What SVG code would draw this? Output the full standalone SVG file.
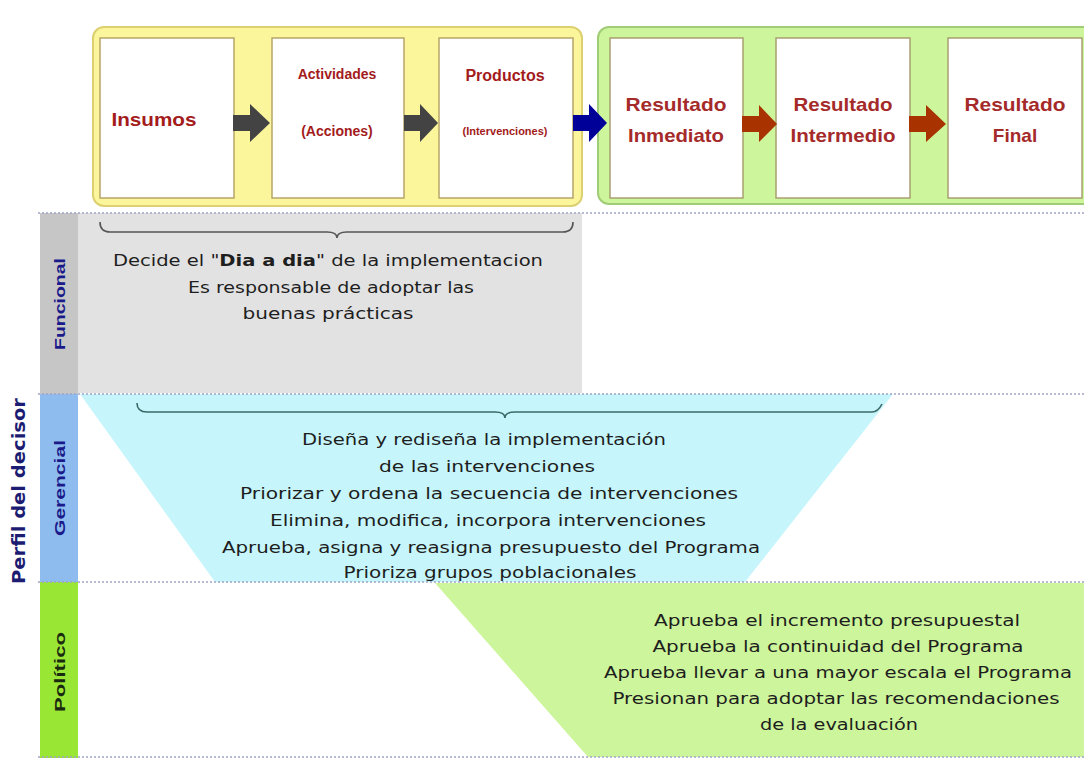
<svg xmlns="http://www.w3.org/2000/svg" width="1084" height="758" viewBox="0 0 1084 758">
<style>
.box{fill:#ffffff;stroke:#b8a56a;stroke-width:1.5}
.gbox{fill:#ffffff;stroke:#a8a070;stroke-width:1.5}
.hd{font-family:"Liberation Sans",Arial,sans-serif;font-weight:bold;fill:#a31b1b;text-anchor:middle}
.rs{font-family:"Liberation Sans",Arial,sans-serif;font-weight:bold;fill:#a52a2a;text-anchor:middle;font-size:19px}
.body{font-family:"DejaVu Sans",sans-serif;font-size:16px;text-anchor:middle;fill:#1e1e1e}
.vl{font-family:"Liberation Sans",Arial,sans-serif;font-weight:bold;font-size:15px;text-anchor:middle}
.dot{stroke:#9ea4c8;stroke-width:1.5;stroke-dasharray:2 2;fill:none}
.brace{fill:none;stroke-width:1.6}
</style>

<!-- background bands -->
<g id="bands">
  <rect x="78" y="213" width="504" height="180" fill="#e2e2e2"/>
  <polygon points="80,394 893,394 745,582 215,582" fill="#c6f6fb"/>
  <polygon points="435,583 1084,583 1084,757 588,757" fill="#cdf59b"/>
  <rect x="40" y="213" width="38" height="181" fill="#c6c6c6"/>
  <rect x="40" y="394" width="38" height="188" fill="#8fbcee"/>
  <rect x="40" y="582" width="38" height="176" fill="#9ae634"/>
  <line class="dot" x1="38" y1="213" x2="1084" y2="213" stroke="#a3a3e0"/>
  <line class="dot" x1="38" y1="394" x2="1084" y2="394"/>
  <line class="dot" x1="38" y1="582" x2="1084" y2="582"/>
  <line class="dot" x1="38" y1="757" x2="1084" y2="757"/>
</g>

<!-- containers -->
<g id="container-proceso">
  <rect x="93" y="27" width="489" height="179" rx="11" fill="#fbf59b" stroke="#ddd070" stroke-width="2"/>
</g>
<g id="container-resultados">
  <rect x="598" y="27" width="500" height="177" rx="11" fill="#cdf59b" stroke="#a0cc78" stroke-width="2"/>
</g>

<g id="node-insumos">
  <rect class="box" x="100" y="38" width="134" height="160"/>
  <text class="hd" x="154" y="126" font-size="18" textLength="85" lengthAdjust="spacingAndGlyphs">Insumos</text>
</g>
<g id="node-actividades">
  <rect class="box" x="272" y="38" width="132" height="160"/>
  <text class="hd" x="337" y="79" font-size="14">Actividades</text>
  <text class="hd" x="337" y="136" font-size="14">(Acciones)</text>
</g>
<g id="node-productos">
  <rect class="box" x="439" y="38" width="134" height="160"/>
  <text class="hd" x="505" y="81" font-size="16">Productos</text>
  <text class="hd" x="505" y="135" font-size="11">(Intervenciones)</text>
</g>
<g id="node-inmediato">
  <rect class="gbox" x="610" y="38" width="133" height="160"/>
  <text class="rs" x="676" y="111" textLength="101" lengthAdjust="spacingAndGlyphs">Resultado</text>
  <text class="rs" x="676" y="142" textLength="96" lengthAdjust="spacingAndGlyphs">Inmediato</text>
</g>
<g id="node-intermedio">
  <rect class="gbox" x="776" y="38" width="134" height="160"/>
  <text class="rs" x="843" y="111" textLength="99" lengthAdjust="spacingAndGlyphs">Resultado</text>
  <text class="rs" x="843" y="142" textLength="105" lengthAdjust="spacingAndGlyphs">Intermedio</text>
</g>
<g id="node-final">
  <rect class="gbox" x="948" y="38" width="134" height="160"/>
  <text class="rs" x="1015" y="111" textLength="101" lengthAdjust="spacingAndGlyphs">Resultado</text>
  <text class="rs" x="1015" y="142">Final</text>
</g>

<g id="connectors">
  <polygon points="233,115 250,115 250,104 270,123 250,142 250,131 233,131" fill="#434343"/>
  <polygon points="404,115 420,115 420,104 438,123 420,142 420,131 404,131" fill="#434343"/>
  <polygon points="573,115 589,115 589,104 607,123 589,142 589,131 573,131" fill="#000099"/>
  <polygon points="742,116 759,116 759,105 777,124 759,142 759,132 742,132" fill="#a83200"/>
  <polygon points="909,116 926,116 926,105 946,124 926,142 926,132 909,132" fill="#a83200"/>
</g>

<!-- side labels -->
<g id="label-perfil">
  <text x="0" y="0" transform="translate(25,491) rotate(-90)" font-family="'DejaVu Sans',sans-serif" font-weight="bold" font-size="18" fill="#1c1c72" text-anchor="middle" textLength="186" lengthAdjust="spacingAndGlyphs">Perfil del decisor</text>
</g>
<g id="label-funcional">
  <text class="vl" transform="translate(65,304) rotate(-90)" fill="#1a1a8a" textLength="92" lengthAdjust="spacingAndGlyphs">Funcional</text>
</g>
<g id="label-gerencial">
  <text class="vl" transform="translate(65,488) rotate(-90)" fill="#1a1a8a" textLength="96" lengthAdjust="spacingAndGlyphs">Gerencial</text>
</g>
<g id="label-politico">
  <text class="vl" transform="translate(65,672) rotate(-90)" fill="#1a2a10" textLength="80" lengthAdjust="spacingAndGlyphs">Político</text>
</g>

<!-- Funcional -->
<g id="node-funcional">
  <path class="brace" stroke="#555555" d="M100,222 Q100,232 110,232 L327,232 Q337,232 337,238 Q337,232 347,232 L563,232 Q573,232 573,222"/>
  <text class="body" x="328" y="266" textLength="430" lengthAdjust="spacingAndGlyphs">Decide el "<tspan font-weight="bold">Dia a dia</tspan>" de la implementacion</text>
  <text class="body" x="331" y="293" textLength="286" lengthAdjust="spacingAndGlyphs">Es responsable de adoptar las</text>
  <text class="body" x="328" y="319" textLength="171" lengthAdjust="spacingAndGlyphs">buenas prácticas</text>
</g>

<!-- Gerencial -->
<g id="node-gerencial">
  <path class="brace" stroke="#3c6868" d="M137,403 Q137,412 147,412 L495,412 Q505,412 505,418 Q505,412 515,412 L872,412 Q878,412 882,404"/>
  <text class="body" x="484" y="445" textLength="364" lengthAdjust="spacingAndGlyphs">Diseña y rediseña la implementación</text>
  <text class="body" x="487" y="472" textLength="216" lengthAdjust="spacingAndGlyphs">de las intervenciones</text>
  <text class="body" x="489" y="499" textLength="498" lengthAdjust="spacingAndGlyphs">Priorizar y ordena la secuencia de intervenciones</text>
  <text class="body" x="488" y="526" textLength="436" lengthAdjust="spacingAndGlyphs">Elimina, modifica, incorpora intervenciones</text>
  <text class="body" x="491" y="553" textLength="538" lengthAdjust="spacingAndGlyphs">Aprueba, asigna y reasigna presupuesto del Programa</text>
  <text class="body" x="490" y="578" textLength="293" lengthAdjust="spacingAndGlyphs">Prioriza grupos poblacionales</text>
</g>

<!-- Politico -->
<g id="node-politico">
  <text class="body" x="837" y="626" textLength="366" lengthAdjust="spacingAndGlyphs">Aprueba el incremento presupuestal</text>
  <text class="body" x="838" y="652" textLength="371" lengthAdjust="spacingAndGlyphs">Aprueba la continuidad del Programa</text>
  <text class="body" x="838" y="678" textLength="468" lengthAdjust="spacingAndGlyphs">Aprueba llevar a una mayor escala el Programa</text>
  <text class="body" x="836" y="704" textLength="447" lengthAdjust="spacingAndGlyphs">Presionan para adoptar las recomendaciones</text>
  <text class="body" x="839" y="730" textLength="158" lengthAdjust="spacingAndGlyphs">de la evaluación</text>
</g>
</svg>
